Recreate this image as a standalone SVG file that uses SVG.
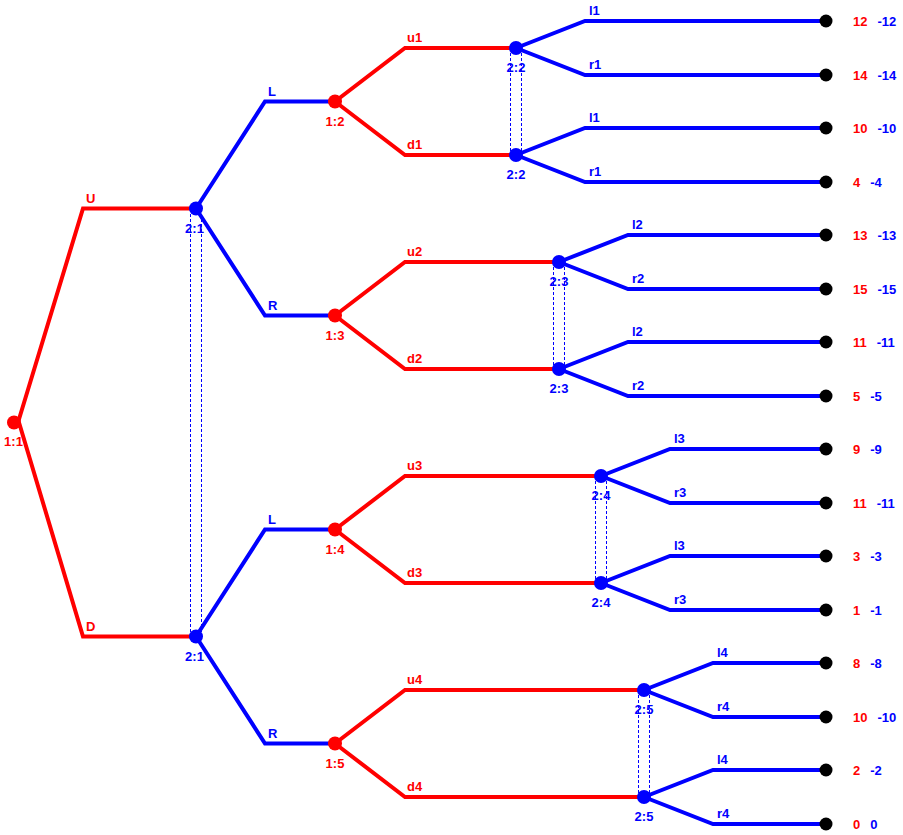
<svg xmlns="http://www.w3.org/2000/svg" width="903" height="835" viewBox="0 0 903 835">
<style>
text{font-family:"Liberation Sans",Arial,sans-serif;font-weight:bold;font-size:13px}
.p1{stroke:#ff0000;stroke-width:4;fill:none;stroke-linejoin:miter}
.p2{stroke:#0000ff;stroke-width:4;fill:none;stroke-linejoin:miter}
.info{stroke:#0000ff;stroke-width:1;stroke-dasharray:3 2;fill:none;shape-rendering:crispEdges}
.n1{fill:#ff0000}
.n2{fill:#0000ff}
.leaf{fill:#000000}
.t1{fill:#ff0000}
.t2{fill:#0000ff}
.nl{text-anchor:middle}
</style>
<rect width="903" height="835" fill="#ffffff"/>
<g id="connectors">
<line class="info" x1="190.5" y1="209" x2="190.5" y2="636"/>
<line class="info" x1="201.5" y1="209" x2="201.5" y2="636"/>
<line class="info" x1="510.5" y1="48" x2="510.5" y2="155"/>
<line class="info" x1="521.5" y1="48" x2="521.5" y2="155"/>
<line class="info" x1="553.5" y1="262" x2="553.5" y2="369"/>
<line class="info" x1="564.5" y1="262" x2="564.5" y2="369"/>
<line class="info" x1="595.5" y1="476" x2="595.5" y2="583"/>
<line class="info" x1="606.5" y1="476" x2="606.5" y2="583"/>
<line class="info" x1="638.5" y1="690" x2="638.5" y2="797"/>
<line class="info" x1="649.5" y1="690" x2="649.5" y2="797"/>
<polyline class="p1" points="18,422.5 83,208.5 196,208.5"/>
<polyline class="p1" points="19,422.5 83,636.5 196,636.5"/>
<polyline class="p1" points="335,101.5 405,48 516,48"/>
<polyline class="p1" points="335,101.5 405,155 516,155"/>
<polyline class="p1" points="335,315.5 405,262 559,262"/>
<polyline class="p1" points="335,315.5 405,369 559,369"/>
<polyline class="p1" points="335,529.5 405,476 601,476"/>
<polyline class="p1" points="335,529.5 405,583 601,583"/>
<polyline class="p1" points="335,743.5 405,690 644,690"/>
<polyline class="p1" points="335,743.5 405,797 644,797"/>
<polyline class="p2" points="196,208.5 265,101.5 335,101.5"/>
<polyline class="p2" points="196,208.5 265,315.5 335,315.5"/>
<polyline class="p2" points="196,636.5 265,529.5 335,529.5"/>
<polyline class="p2" points="196,636.5 265,743.5 335,743.5"/>
<polyline class="p2" points="516,48 585,21 826,21"/>
<polyline class="p2" points="516,48 585,75 826,75"/>
<polyline class="p2" points="516,155 585,128 826,128"/>
<polyline class="p2" points="516,155 585,182 826,182"/>
<polyline class="p2" points="559,262 628,235 826,235"/>
<polyline class="p2" points="559,262 628,289 826,289"/>
<polyline class="p2" points="559,369 628,342 826,342"/>
<polyline class="p2" points="559,369 628,396 826,396"/>
<polyline class="p2" points="601,476 670,449 826,449"/>
<polyline class="p2" points="601,476 670,503 826,503"/>
<polyline class="p2" points="601,583 670,556 826,556"/>
<polyline class="p2" points="601,583 670,610 826,610"/>
<polyline class="p2" points="644,690 713,663 826,663"/>
<polyline class="p2" points="644,690 713,717 826,717"/>
<polyline class="p2" points="644,797 713,770 826,770"/>
<polyline class="p2" points="644,797 713,824 826,824"/>
<text class="t1" x="86" y="203">U</text>
<text class="t1" x="86" y="631">D</text>
<text class="t2" x="268" y="96">L</text>
<text class="t2" x="268" y="310">R</text>
<text class="t2" x="268" y="524">L</text>
<text class="t2" x="268" y="738">R</text>
<text class="t1" x="407" y="42">u1</text>
<text class="t1" x="407" y="149">d1</text>
<text class="t1" x="407" y="256">u2</text>
<text class="t1" x="407" y="363">d2</text>
<text class="t1" x="407" y="470">u3</text>
<text class="t1" x="407" y="577">d3</text>
<text class="t1" x="407" y="684">u4</text>
<text class="t1" x="407" y="791">d4</text>
<text class="t2" x="589" y="15">l1</text>
<text class="t2" x="589" y="69">r1</text>
<text class="t2" x="589" y="122">l1</text>
<text class="t2" x="589" y="176">r1</text>
<text class="t2" x="632" y="229">l2</text>
<text class="t2" x="632" y="283">r2</text>
<text class="t2" x="632" y="336">l2</text>
<text class="t2" x="632" y="390">r2</text>
<text class="t2" x="674" y="443">l3</text>
<text class="t2" x="674" y="497">r3</text>
<text class="t2" x="674" y="550">l3</text>
<text class="t2" x="674" y="604">r3</text>
<text class="t2" x="717" y="657">l4</text>
<text class="t2" x="717" y="711">r4</text>
<text class="t2" x="717" y="764">l4</text>
<text class="t2" x="717" y="818">r4</text>
</g>
<g id="n1_1"><circle class="n1" cx="14" cy="422.5" r="7"/><text class="t1 nl" x="13.5" y="446">1:1</text></g>
<g id="n2_1a"><circle class="n2" cx="196" cy="208.5" r="7"/><text class="t2 nl" x="194.5" y="233">2:1</text></g>
<g id="n2_1b"><circle class="n2" cx="196" cy="636.5" r="7"/><text class="t2 nl" x="194.5" y="661">2:1</text></g>
<g id="n1_2"><circle class="n1" cx="335" cy="101.5" r="7"/><text class="t1 nl" x="335" y="126">1:2</text></g>
<g id="n1_3"><circle class="n1" cx="335" cy="315.5" r="7"/><text class="t1 nl" x="335" y="340">1:3</text></g>
<g id="n1_4"><circle class="n1" cx="335" cy="529.5" r="7"/><text class="t1 nl" x="335" y="554">1:4</text></g>
<g id="n1_5"><circle class="n1" cx="335" cy="743.5" r="7"/><text class="t1 nl" x="335" y="768">1:5</text></g>
<g id="n2_2a"><circle class="n2" cx="516" cy="48" r="7"/><text class="t2 nl" x="516" y="72">2:2</text></g>
<g id="n2_2b"><circle class="n2" cx="516" cy="155" r="7"/><text class="t2 nl" x="516" y="179">2:2</text></g>
<g id="n2_3a"><circle class="n2" cx="559" cy="262" r="7"/><text class="t2 nl" x="559" y="286">2:3</text></g>
<g id="n2_3b"><circle class="n2" cx="559" cy="369" r="7"/><text class="t2 nl" x="559" y="393">2:3</text></g>
<g id="n2_4a"><circle class="n2" cx="601" cy="476" r="7"/><text class="t2 nl" x="601" y="500">2:4</text></g>
<g id="n2_4b"><circle class="n2" cx="601" cy="583" r="7"/><text class="t2 nl" x="601" y="607">2:4</text></g>
<g id="n2_5a"><circle class="n2" cx="644" cy="690" r="7"/><text class="t2 nl" x="644" y="714">2:5</text></g>
<g id="n2_5b"><circle class="n2" cx="644" cy="797" r="7"/><text class="t2 nl" x="644" y="821">2:5</text></g>
<g id="leaf1"><circle class="leaf" cx="826" cy="21" r="6.5"/><text x="853" y="25.5"><tspan class="t1">12</tspan><tspan class="t2" dx="10">-12</tspan></text></g>
<g id="leaf2"><circle class="leaf" cx="826" cy="75" r="6.5"/><text x="853" y="79.5"><tspan class="t1">14</tspan><tspan class="t2" dx="10">-14</tspan></text></g>
<g id="leaf3"><circle class="leaf" cx="826" cy="128" r="6.5"/><text x="853" y="132.5"><tspan class="t1">10</tspan><tspan class="t2" dx="10">-10</tspan></text></g>
<g id="leaf4"><circle class="leaf" cx="826" cy="182" r="6.5"/><text x="853" y="186.5"><tspan class="t1">4</tspan><tspan class="t2" dx="10">-4</tspan></text></g>
<g id="leaf5"><circle class="leaf" cx="826" cy="235" r="6.5"/><text x="853" y="239.5"><tspan class="t1">13</tspan><tspan class="t2" dx="10">-13</tspan></text></g>
<g id="leaf6"><circle class="leaf" cx="826" cy="289" r="6.5"/><text x="853" y="293.5"><tspan class="t1">15</tspan><tspan class="t2" dx="10">-15</tspan></text></g>
<g id="leaf7"><circle class="leaf" cx="826" cy="342" r="6.5"/><text x="853" y="346.5"><tspan class="t1">11</tspan><tspan class="t2" dx="10">-11</tspan></text></g>
<g id="leaf8"><circle class="leaf" cx="826" cy="396" r="6.5"/><text x="853" y="400.5"><tspan class="t1">5</tspan><tspan class="t2" dx="10">-5</tspan></text></g>
<g id="leaf9"><circle class="leaf" cx="826" cy="449" r="6.5"/><text x="853" y="453.5"><tspan class="t1">9</tspan><tspan class="t2" dx="10">-9</tspan></text></g>
<g id="leaf10"><circle class="leaf" cx="826" cy="503" r="6.5"/><text x="853" y="507.5"><tspan class="t1">11</tspan><tspan class="t2" dx="10">-11</tspan></text></g>
<g id="leaf11"><circle class="leaf" cx="826" cy="556" r="6.5"/><text x="853" y="560.5"><tspan class="t1">3</tspan><tspan class="t2" dx="10">-3</tspan></text></g>
<g id="leaf12"><circle class="leaf" cx="826" cy="610" r="6.5"/><text x="853" y="614.5"><tspan class="t1">1</tspan><tspan class="t2" dx="10">-1</tspan></text></g>
<g id="leaf13"><circle class="leaf" cx="826" cy="663" r="6.5"/><text x="853" y="667.5"><tspan class="t1">8</tspan><tspan class="t2" dx="10">-8</tspan></text></g>
<g id="leaf14"><circle class="leaf" cx="826" cy="717" r="6.5"/><text x="853" y="721.5"><tspan class="t1">10</tspan><tspan class="t2" dx="10">-10</tspan></text></g>
<g id="leaf15"><circle class="leaf" cx="826" cy="770" r="6.5"/><text x="853" y="774.5"><tspan class="t1">2</tspan><tspan class="t2" dx="10">-2</tspan></text></g>
<g id="leaf16"><circle class="leaf" cx="826" cy="824" r="6.5"/><text x="853" y="828.5"><tspan class="t1">0</tspan><tspan class="t2" dx="10">0</tspan></text></g>
</svg>
